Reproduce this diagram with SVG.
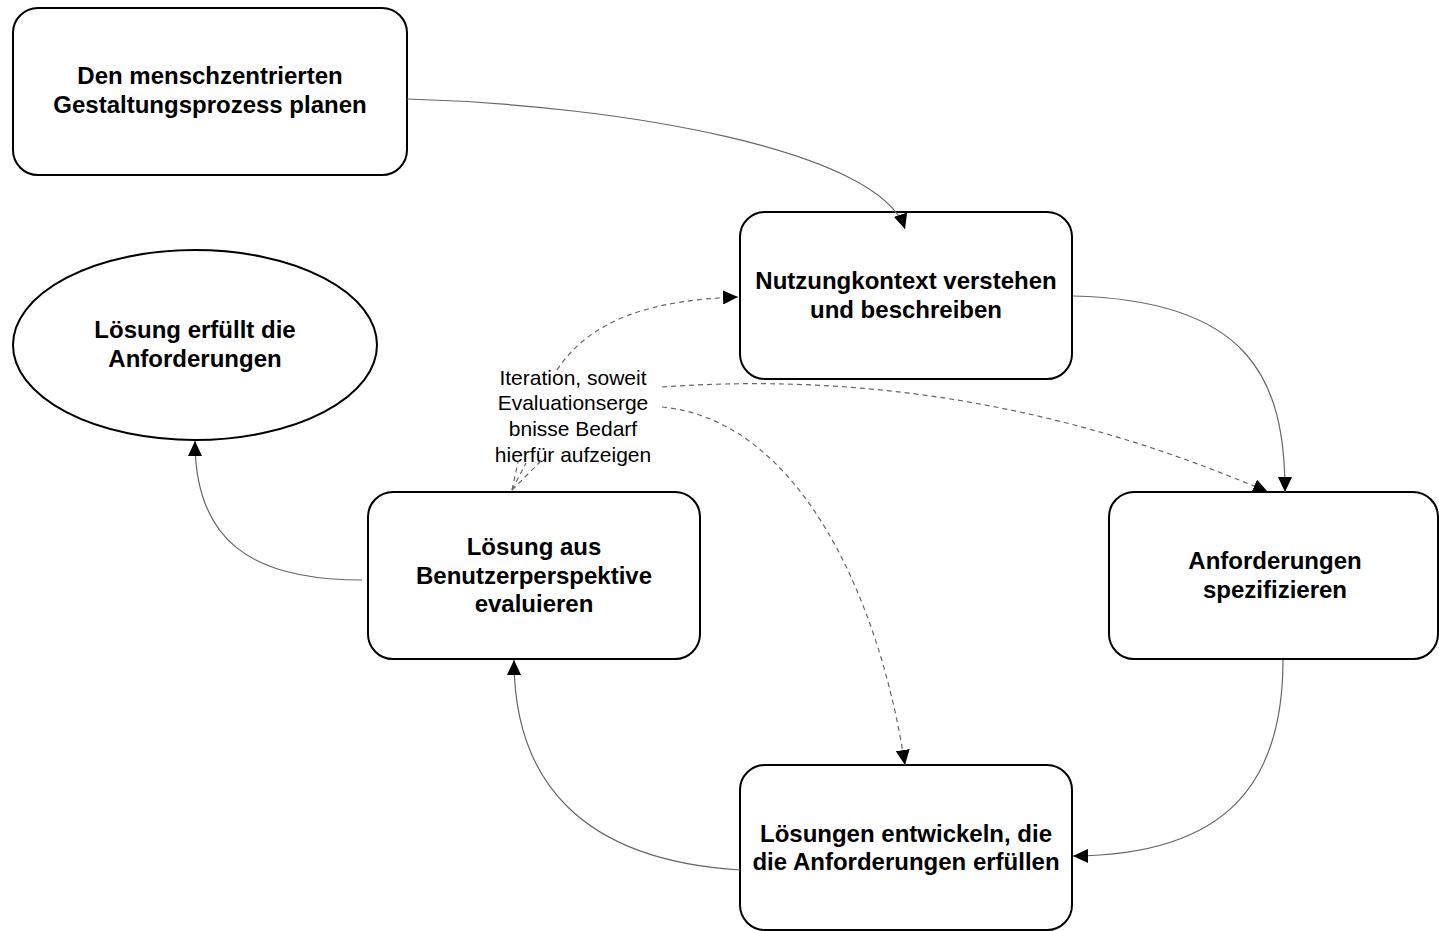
<svg xmlns="http://www.w3.org/2000/svg" width="1439" height="931" viewBox="0 0 1439 931">
<style>
.node{fill:#fff;stroke:#000;stroke-width:2}
.t{font-family:"Liberation Sans",Arial,sans-serif;font-weight:bold;font-size:24px;text-anchor:middle;fill:#000}
.lbl{font-family:"Liberation Sans",Arial,sans-serif;font-size:21px;text-anchor:middle;fill:#000}
.c{fill:none;stroke:#666;stroke-width:1.2}
.d{fill:none;stroke:#666;stroke-width:1.2;stroke-dasharray:5 4}
</style>
<defs>
<marker id="ah" markerUnits="userSpaceOnUse" markerWidth="16" markerHeight="14" refX="15" refY="7" orient="auto">
<path d="M0,0 L15,7 L0,14 z" fill="#000"/>
</marker>
</defs>
<rect width="1439" height="931" fill="#fff"/>
<g id="n1">
<rect class="node" x="13" y="8" width="394" height="167" rx="25"/>
<text class="t" x="210" y="84">Den menschzentrierten</text>
<text class="t" x="210" y="113">Gestaltungsprozess planen</text>
</g>
<g id="n2">
<rect class="node" x="740" y="212" width="332" height="167" rx="25"/>
<text class="t" x="906" y="289">Nutzungkontext verstehen</text>
<text class="t" x="906" y="318">und beschreiben</text>
</g>
<g id="n3">
<ellipse class="node" cx="195" cy="345" rx="182" ry="95"/>
<text class="t" x="195" y="338">Lösung erfüllt die</text>
<text class="t" x="195" y="367">Anforderungen</text>
</g>
<g id="n4">
<rect class="node" x="368" y="492" width="332" height="167" rx="25"/>
<text class="t" x="534" y="555">Lösung aus</text>
<text class="t" x="534" y="584">Benutzerperspektive</text>
<text class="t" x="534" y="612">evaluieren</text>
</g>
<g id="n5">
<rect class="node" x="1109" y="492" width="329" height="167" rx="25"/>
<text class="t" x="1275" y="569">Anforderungen</text>
<text class="t" x="1275" y="598">spezifizieren</text>
</g>
<g id="n6">
<rect class="node" x="740" y="765" width="332" height="165" rx="25"/>
<text class="t" x="906" y="842">Lösungen entwickeln, die</text>
<text class="t" x="906" y="870">die Anforderungen erfüllen</text>
</g>
<g id="label">
<text class="lbl" x="573" y="385">Iteration, soweit</text>
<text class="lbl" x="573" y="410">Evaluationserge</text>
<text class="lbl" x="573" y="436">bnisse Bedarf</text>
<text class="lbl" x="573" y="462">hierfür aufzeigen</text>
</g>
<g id="connectors">
<path class="c" d="M407,99 C 620,105 880,150 905,229" marker-end="url(#ah)"/>
<path class="c" d="M1073,296 C 1250,300 1285,380 1285,492" marker-end="url(#ah)"/>
<path class="c" d="M1283,660 C 1283,780 1230,855 1073,856" marker-end="url(#ah)"/>
<path class="c" d="M740,870 C 580,860 514,780 514,660" marker-end="url(#ah)"/>
<path class="c" d="M362,580 C 250,580 195,540 195,441" marker-end="url(#ah)"/>
<path class="d" d="M557,370 C 590,320 650,300 738,297" marker-end="url(#ah)"/>
<path class="d" d="M662,387 C 900,370 1100,420 1268,492" marker-end="url(#ah)"/>
<path class="d" d="M662,407 C 800,420 880,600 905,765" marker-end="url(#ah)"/>
<path class="d" d="M512,490 L518,462"/>
<path class="d" d="M512,490 L526,463"/>
<path class="d" d="M512,490 L541,461"/>
</g>
</svg>
